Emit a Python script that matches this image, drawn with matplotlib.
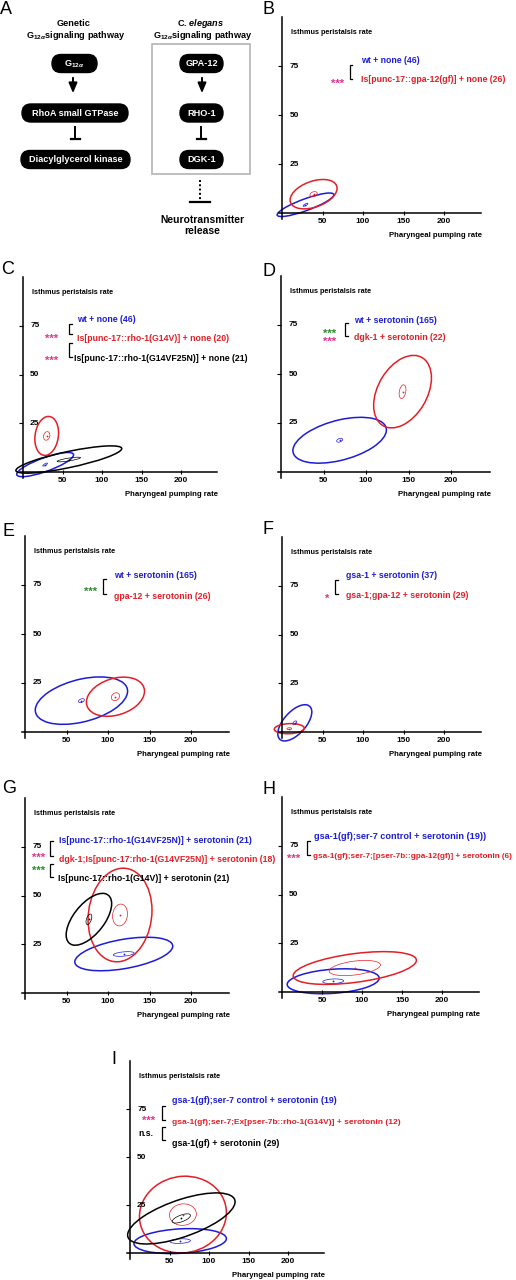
import numpy as np

import matplotlib
matplotlib.use("Agg")

from matplotlib import pyplot
from matplotlib import patches
from matplotlib import transforms

W, H = 516, 1280

pyplot.rcParams['font.family'] = ['Liberation Sans', 'DejaVu Sans']
pyplot.rcParams['font.weight'] = 'bold'
pyplot.rcParams['mathtext.fontset'] = 'custom'
pyplot.rcParams['mathtext.rm'] = 'Liberation Sans:bold'
pyplot.rcParams['mathtext.it'] = 'Liberation Sans:italic:bold'
pyplot.rcParams['mathtext.bf'] = 'Liberation Sans:bold'

BLUE = "#1c1cd6"
RED = "#e41e26"
BLACK = "#000000"
PINK = "#e2338c"
GREEN = "#2b8c2b"

# ---- panel A: pathway nodes
A_genetic = ["G$_{12α}$", "RhoA small GTPase", "Diacylglycerol kinase"]
A_elegans = ["GPA-12", "RHO-1", "DGK-1"]

# ---- scatter panels
# each group: (mean x, mean y, sd x, sd y, r, sem x, sem y, sem r)
B_labels = ["wt + none (46)", "Is[punc-17::gpa-12(gf)] + none (26)"]
B_stats = [(29, 4.2, 35, 6.0, 0.85, 3.0, 0.8, 0.8),
           (39, 9.6, 29, 7.5, 0.4, 4.5, 1.3, 0.3)]
B_tests = ["***"]

C_labels = ["wt + none (46)", "Is[punc-17::rho-1(G14V)] + none (20)",
            "Is[punc-17::rho-1(G14VF25N)] + none (21)"]
C_stats = [(28, 3.8, 36, 6.2, 0.8, 3.0, 0.8, 0.8),
           (30, 18.5, 15, 10, 0.15, 4.0, 2.2, 0.2),
           (58, 6.4, 67, 7.0, 0.8, 14.8, 1.2, 0.8)]
C_tests = ["***", "***"]

D_labels = ["wt + serotonin (165)", "dgk-1 + serotonin (22)"]
D_stats = [(69, 16.2, 55, 11.7, 0.45, 3.5, 1.0, 0.4),
           (143, 41, 34, 18.5, 0.38, 4.0, 3.5, 0.3)]
D_tests = ["***", "***"]

E_labels = ["wt + serotonin (165)", "gpa-12 + serotonin (26)"]
E_stats = [(68, 16, 55.6, 12.1, 0.4, 3.5, 1.0, 0.4),
           (109, 18, 35, 10, 0.28, 5.0, 2.0, 0.2)]
E_tests = ["***"]

F_labels = ["gsa-1 + serotonin (37)", "gsa-1;gpa-12 + serotonin (29)"]
F_stats = [(15.8, 4.7, 21, 9.3, 0.6, 2.5, 1.0, 0.5),
           (9, 1.7, 18.5, 2.6, 0.1, 3.0, 0.5, 0.1)]
F_tests = ["*"]

G_labels = ["Is[punc-17::rho-1(G14VF25N)] + serotonin (21)",
            "dgk-1;Is[punc-17:rho-1(G14VF25N)] + serotonin (18)",
            "Is[punc-17::rho-1(G14V)] + serotonin (21)"]
G_stats = [(119, 20, 59, 8.6, 0.47, 12.6, 1.2, 0.4),
           (114.5, 40, 38.5, 24, 0.1, 9.0, 5.6, 0.1),
           (77, 37.8, 27.4, 13.3, 0.6, 3.5, 2.7, 0.5)]
G_tests = ["***", "***"]

H_labels = ["gsa-1(gf);ser-7 control + serotonin (19))",
            "gsa-1(gf);ser-7;[pser-7b::gpa-12(gf)] + serotonin (6)"]
H_stats = [(64, 5.5, 57.5, 6.4, 0.25, 13, 1.2, 0.2),
           (91, 12.3, 77, 8.4, 0.47, 32, 3.9, 0.4)]
H_tests = ["***"]

I_labels = ["gsa-1(gf);ser-7 control + serotonin (19)",
            "gsa-1(gf);ser-7;Ex[pser-7b::rho-1(G14V)] + serotonin (12)",
            "gsa-1(gf) + serotonin (29)"]
I_stats = [(63.5, 6.2, 58.5, 6.5, 0.2, 13, 1.2, 0.2),
           (67, 20, 55, 20, 0.05, 17, 5.6, 0.05),
           (65, 18, 68, 13.3, 0.65, 11.6, 2.4, 0.65)]
I_tests = ["***", "n.s."]

XTICKS = [50, 100, 150, 200]
YTICKS = [25, 50, 75]

fig = pyplot.figure(figsize=(W/100, H/100), dpi=100)


def pxaxes(left, top, width, height):
	return fig.add_axes([left/W, 1-(top+height)/H, width/W, height/H])


def draw_ellipse(ax, mx, my, ex, ey, r, color, lw):
	mat = np.array([[ex, 0, mx], [ey*r, ey*np.sqrt(1-r*r), my], [0, 0, 1]])
	trans = transforms.Affine2D(mat)+ax.transData
	ax.add_patch(patches.Circle((0, 0), 1, transform=trans, fill=False,
		edgecolor=color, lw=lw, clip_on=False))


def make_panel(ox, oy, sx, sy):
	"""Axes whose data origin sits at pixel (ox,oy)."""
	xmin, xmax, ymin, ymax = -12, 252, -16, 102
	ax = pxaxes(ox+xmin*sx, oy-ymax*sy, (xmax-xmin)*sx, (ymax-ymin)*sy)
	ax.set_xlim(xmin, xmax)
	ax.set_ylim(ymin, ymax)
	ax.patch.set_visible(False)
	for side in ("top", "right"):
		ax.spines[side].set_visible(False)
	ax.spines["left"].set_position(("data", 0))
	ax.spines["bottom"].set_position(("data", 0))
	ax.spines["left"].set_bounds(-3, 100)
	ax.spines["bottom"].set_bounds(-4, 246)
	for side in ("left", "bottom"):
		ax.spines[side].set_linewidth(1.1)
	ax.set_xticks(XTICKS)
	ax.set_xticklabels([str(v) for v in XTICKS], fontsize=6)
	ax.tick_params(axis="x", direction="inout", length=3, width=0.8, pad=2)
	ax.set_yticks(YTICKS)
	ax.set_yticklabels([])
	ax.tick_params(axis="y", direction="out", length=3, width=0.8)
	for v in YTICKS:
		ax.text(9, v, str(v), fontsize=6, ha="left", va="center")
	ax.text(11, 92, "Isthmus peristalsis rate", fontsize=5.2, ha="left", va="center")
	ax.text(247, -11.5, "Pharyngeal pumping rate", fontsize=5.6, ha="right", va="center")
	return ax


def draw_groups(ax, stats, colors):
	for (mx, my, ex, ey, r, qx, qy, qr), col in zip(stats, colors):
		draw_ellipse(ax, mx, my, ex, ey, r, col, 1.1)
		draw_ellipse(ax, mx, my, qx, qy, qr, col, 0.5)
		ax.plot(mx, my, "o", ms=1.3, color=col, mec="none", clip_on=False)


def draw_labels(ax, labels, colors, xs, ys, sizes=None):
	for i, (lab, col) in enumerate(zip(labels, colors)):
		fs = 6.35 if sizes is None else sizes[i]
		ax.text(xs[i], ys[i], lab, color=col, fontsize=fs, ha="left", va="center")


def bracket(ax, x, y1, y2):
	ax.plot([x+3.5, x, x, x+3.5], [y1, y1, y2, y2], color="black", lw=0.9,
		clip_on=False, solid_joinstyle="miter")


def stars(ax, x, y, text, color):
	if text == "n.s.":
		ax.text(x, y, text, color=color, fontsize=6.2, ha="center", va="center")
	else:
		ax.text(x, y-3.6, text, color=color, fontsize=8, ha="center", va="baseline")


# ---------------- panel A
axA = pxaxes(0, 0, 260, 250)
axA.set_xlim(0, 260)
axA.set_ylim(250, 0)
axA.axis("off")


def pill(cx, cy, w, text):
	h = 18
	axA.add_patch(patches.FancyBboxPatch((cx-w/2, cy-h/2), w, h,
		boxstyle=f"round,pad=0,rounding_size={h/2}", fc="black", ec="black"))
	axA.text(cx, cy+0.5, text, color="white", ha="center", va="center", fontsize=6.6)


def arrow(x, y1, y2):
	axA.annotate("", xy=(x, y2), xytext=(x, y1),
		arrowprops=dict(arrowstyle="-|>,head_length=0.6,head_width=0.25", lw=1.4, color="black"))


def tbar(x, y1, y2, half=4.5, ls="-"):
	axA.plot([x, x], [y1, y2], color="black", lw=1.4, ls=ls)
	axA.plot([x-half, x+half], [y2, y2], color="black", lw=1.6)


axA.text(74, 24, "Genetic", ha="center", va="center", fontsize=6.6)
axA.text(76, 35, "G$_{12α}$signaling pathway", ha="center", va="center", fontsize=6.6)
axA.text(201, 24, r"C. $\mathit{elegans}$", ha="center", va="center", fontsize=6.6)
axA.text(203, 35, "G$_{12α}$signaling pathway", ha="center", va="center", fontsize=6.6)

pill(74.5, 63.5, 45, A_genetic[0])
arrow(73, 75, 96)
pill(75, 113, 106, A_genetic[1])
tbar(75, 127, 139)
pill(75.5, 159.5, 109, A_genetic[2])

axA.add_patch(patches.Rectangle((152, 44), 98, 130, fill=False, ec="#b4b4b4", lw=1.2))
pill(201.5, 63.5, 43, A_elegans[0])
arrow(202, 75, 96)
pill(201.5, 113, 43, A_elegans[1])
tbar(201, 127, 139)
pill(201.5, 159.5, 43, A_elegans[2])

tbar(200, 180, 202, half=10, ls=(0, (1, 1.2)))
axA.text(202, 220, "Neurotransmitter", ha="center", va="center", fontsize=7.4)
axA.text(202, 231, "release", ha="center", va="center", fontsize=7.4)

# ---------------- panel B
ax = make_panel(282, 213, 0.81, 1.96)
draw_groups(ax, B_stats, [BLUE, RED])
draw_labels(ax, B_labels, [BLUE, RED], [97, 97], [77.6, 68])
bracket(ax, 83.5, 75.4, 68.6)
stars(ax, 68, 68, B_tests[0], PINK)

# ---------------- panel C
ax = make_panel(23, 472, 0.79, 1.95)
draw_groups(ax, C_stats, [BLUE, RED, BLACK])
draw_labels(ax, C_labels, [BLUE, RED, BLACK], [68, 68, 64.5], [78, 68.4, 58.3])
bracket(ax, 58, 75.9, 70.7)
bracket(ax, 58, 66, 59)
stars(ax, 36, 70.3, C_tests[0], PINK)
stars(ax, 36, 59, C_tests[1], PINK)

# ---------------- panel D
ax = make_panel(281, 472, 0.85, 1.96)
draw_groups(ax, D_stats, [BLUE, RED])
draw_labels(ax, D_labels, [BLUE, RED], [86, 86], [77.3, 68.8])
bracket(ax, 75, 75.8, 69.3)
stars(ax, 57.6, 72.4, D_tests[0], GREEN)
stars(ax, 57.6, 68.3, D_tests[1], PINK)

# ---------------- panel E
ax = make_panel(25, 732, 0.83, 1.96)
draw_groups(ax, E_stats, [BLUE, RED])
draw_labels(ax, E_labels, [BLUE, RED], [107, 107], [80, 69.3])
bracket(ax, 94, 77.9, 70.2)
stars(ax, 79, 73.6, E_tests[0], GREEN)

# ---------------- panel F
ax = make_panel(282, 732, 0.81, 1.95)
draw_groups(ax, F_stats, [BLUE, RED])
draw_labels(ax, F_labels, [BLUE, RED], [79, 79], [80, 70])
bracket(ax, 65.4, 78, 70.7)
stars(ax, 56.4, 70.2, F_tests[0], PINK)

# ---------------- panel G
ax = make_panel(25, 993, 0.83, 1.95)
draw_groups(ax, G_stats, [BLUE, RED, BLACK])
draw_labels(ax, G_labels, [BLUE, RED, BLACK], [41, 41, 40], [78, 68.7, 58.7])
bracket(ax, 30, 78, 70.2)
bracket(ax, 30, 66.4, 59.6)
stars(ax, 16, 71.2, G_tests[0], PINK)
stars(ax, 16, 64.7, G_tests[1], GREEN)

# ---------------- panel H
ax = make_panel(282, 992, 0.80, 1.95)
draw_groups(ax, H_stats, [BLUE, RED])
draw_labels(ax, H_labels, [BLUE, RED], [40, 39], [80, 69.3], sizes=[6.6, 5.9])
bracket(ax, 31.5, 77.6, 70.2)
stars(ax, 15, 70.2, H_tests[0], PINK)

# ---------------- panel I
ax = make_panel(130, 1253, 0.79, 1.92)
draw_groups(ax, I_stats, [BLUE, RED, BLACK])
draw_labels(ax, I_labels, [BLUE, RED, BLACK], [53.4, 53.4, 53.4], [79.2, 68.1, 57.2],
	sizes=[6.4, 6.0, 6.4])
bracket(ax, 40.7, 76.8, 69.3)
bracket(ax, 40.7, 65.5, 58.9)
stars(ax, 23, 71, I_tests[0], PINK)
stars(ax, 19.6, 62, I_tests[1], BLACK)

# ---------------- panel letters
for letter, x, y in [("A", 0, 1), ("B", 263, 1), ("C", 1, 261), ("D", 262, 263),
		("E", 2, 523), ("F", 262, 521), ("G", 2, 780), ("H", 263, 781), ("I", 111, 1051)]:
	fig.text(x/W, 1-y/H, letter, fontsize=13, fontweight="normal", ha="left", va="top")

fig.savefig("out.png", dpi=100)
